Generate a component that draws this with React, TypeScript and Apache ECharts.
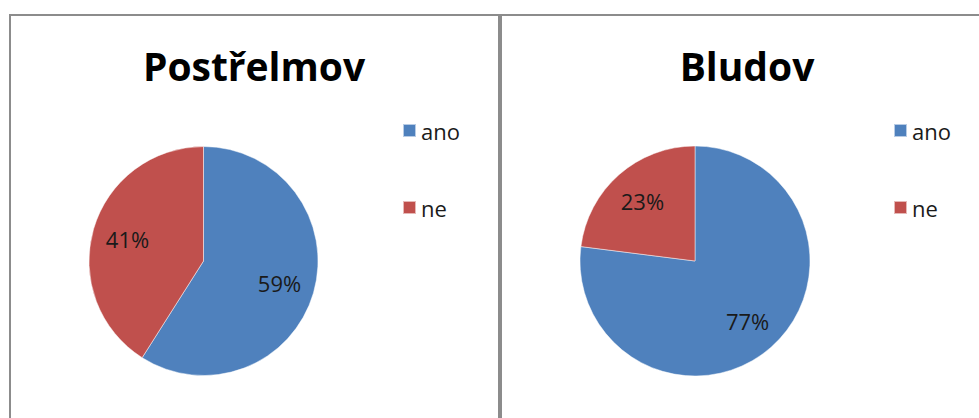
import React, { useEffect, useRef } from "react";
import * as echarts from "echarts";

const categories = ["ano", "ne"];
const postrelmovValues = [59, 41];
const bludovValues = [77, 23];
const chartTitles = ["Postřelmov", "Bludov"];
const colors = ["#4F81BD", "#C0504D"];

const FONT = "'Open Sans', 'Noto Sans', sans-serif";

function pieSeries(values: number[], center: [number, number], radius: number) {
  const data = categories.map((name, i) => ({ name, value: values[i] }));
  return [
    {
      type: "pie",
      center,
      radius: [0, radius],
      startAngle: 90,
      clockwise: true,
      data,
      label: { show: false },
      labelLine: { show: false },
      itemStyle: { borderColor: "rgba(255,255,255,0.6)", borderWidth: 0.8 },
      emphasis: { disabled: true },
      silent: true,
    },
    {
      type: "pie",
      center,
      radius: [radius * 0.33, radius],
      startAngle: 90,
      clockwise: true,
      data,
      itemStyle: { color: "transparent" },
      label: {
        show: true,
        position: "inside",
        formatter: (p: any) => `${p.value}%`,
        color: "#1a1a1a",
        fontFamily: FONT,
        fontSize: 22,
      },
      labelLine: { show: false },
      emphasis: { disabled: true },
      silent: true,
    },
  ];
}

function legend(left: number) {
  return {
    orient: "vertical",
    left,
    top: 114,
    itemWidth: 13,
    itemHeight: 13,
    itemGap: 54,
    icon: "rect",
    selectedMode: false,
    data: categories.map((name, i) => ({ name, itemStyle: { color: colors[i] } })),
    textStyle: { fontFamily: FONT, fontSize: 22, color: "#1a1a1a", lineHeight: 23 },
  };
}

export default function App() {
  const ref = useRef<HTMLDivElement>(null);
  useEffect(() => {
    if (!ref.current) return;
    const chart = echarts.init(ref.current, null, { renderer: "svg" });
    const borderColor = "#8c8c8c";
    chart.setOption({
      animation: false,
      color: colors,
      legend: [legend(397), legend(888)],
      graphic: [
        { type: "rect", shape: { x: 9, y: 14, width: 980, height: 2 }, style: { fill: borderColor } },
        { type: "rect", shape: { x: 9, y: 14, width: 2, height: 420 }, style: { fill: borderColor } },
        { type: "rect", shape: { x: 498, y: 14, width: 4, height: 420 }, style: { fill: borderColor } },
        {
          type: "text",
          x: 254,
          y: 65,
          style: {
            text: chartTitles[0],
            fontFamily: FONT,
            fontWeight: "bold",
            fontSize: 39,
            fill: "#000",
            textAlign: "center",
            textVerticalAlign: "middle",
          },
        },
        {
          type: "text",
          x: 747,
          y: 65,
          style: {
            text: chartTitles[1],
            fontFamily: FONT,
            fontWeight: "bold",
            fontSize: 39,
            fill: "#000",
            textAlign: "center",
            textVerticalAlign: "middle",
          },
        },
      ],
      series: [
        ...pieSeries(postrelmovValues, [203.5, 261], 114.5),
        ...pieSeries(bludovValues, [695, 261], 115),
      ],
    });
    return () => chart.dispose();
  }, []);
  return (
    <div
      ref={ref}
      style={{ position: "fixed", left: 0, top: 0, width: 979, height: 418, background: "#fff" }}
    />
  );
}
